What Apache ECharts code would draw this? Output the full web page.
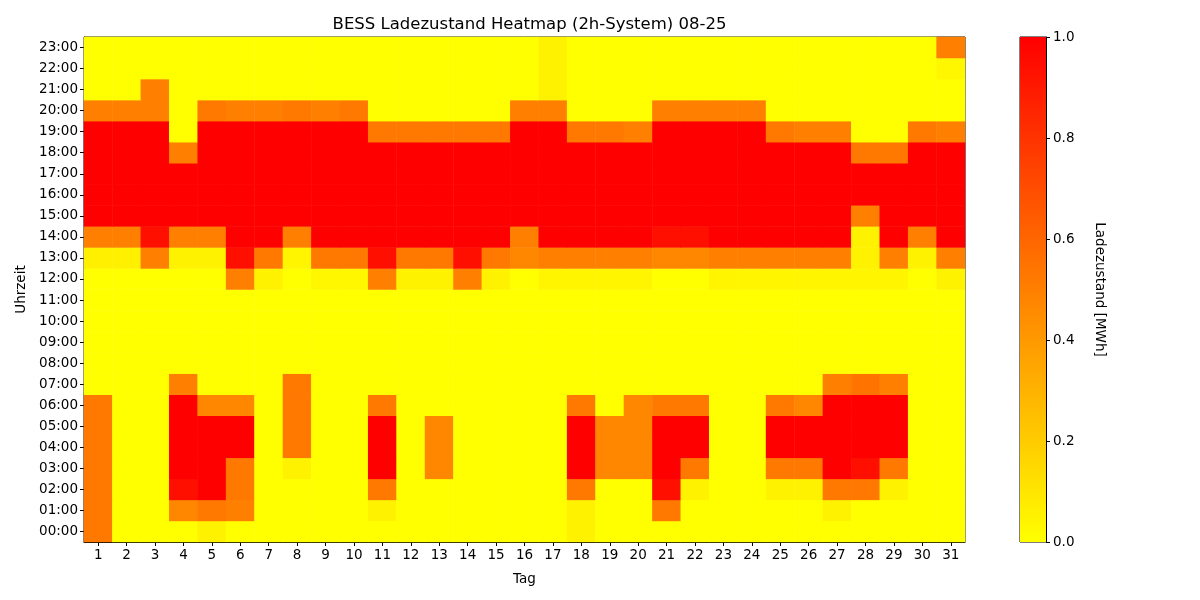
<!DOCTYPE html>
<html>
<head>
<meta charset="utf-8">
<script src="https://cdn.jsdelivr.net/npm/echarts@6/dist/echarts.min.js"></script>
<style>
  html, body { margin: 0; padding: 0; background: #fff; }
  #chart { width: 1200px; height: 600px; }
</style>
</head>
<body>
<div id="chart"></div>
<script>
// Tage und Stunden
var days = [];
for (var d = 1; d <= 31; d++) days.push(String(d));
var hours = [];
for (var h = 0; h < 24; h++) hours.push((h < 10 ? '0' : '') + h + ':00');

// Ladezustand [MWh], eine Zeile pro Stunde (00:00 ... 23:00), Spalten = Tag 1..31
var soc = [
  /*00*/ [0.53,0,0,0,0.05,0,0,0,0,0,0,0,0,0,0,0,0,0.05,0,0,0,0,0,0,0,0,0,0,0,0,0],
  /*01*/ [0.53,0,0,0.47,0.53,0.5,0,0,0,0,0.05,0,0,0,0,0,0,0.05,0,0,0.53,0,0,0,0,0,0.05,0,0,0,0],
  /*02*/ [0.53,0,0,0.94,1,0.53,0,0,0,0,0.53,0,0,0,0,0,0,0.53,0,0,0.94,0.05,0,0,0.05,0.05,0.53,0.53,0.05,0,0],
  /*03*/ [0.53,0,0,1,1,0.53,0,0.05,0,0,1,0,0.47,0,0,0,0,1,0.47,0.47,1,0.53,0,0,0.53,0.53,1,0.94,0.53,0,0],
  /*04*/ [0.53,0,0,1,1,1,0,0.53,0,0,1,0,0.47,0,0,0,0,1,0.47,0.47,1,1,0,0,1,1,1,1,1,0,0],
  /*05*/ [0.53,0,0,1,1,1,0,0.53,0,0,1,0,0.47,0,0,0,0,1,0.47,0.47,1,1,0,0,1,1,1,1,1,0,0],
  /*06*/ [0.53,0,0,1,0.47,0.47,0,0.53,0,0,0.53,0,0,0,0,0,0,0.53,0,0.47,0.53,0.53,0,0,0.53,0.47,1,1,1,0,0],
  /*07*/ [0,0,0,0.5,0,0,0,0.53,0,0,0,0,0,0,0,0,0,0,0,0,0,0,0,0,0,0,0.5,0.55,0.5,0,0],
  /*08*/ [0,0,0,0,0,0,0,0,0,0,0,0,0,0,0,0,0,0,0,0,0,0,0,0,0,0,0,0,0,0,0],
  /*09*/ [0,0,0,0,0,0,0,0,0,0,0,0,0,0,0,0,0,0,0,0,0,0,0,0,0,0,0,0,0,0,0],
  /*10*/ [0,0,0,0,0,0,0,0,0,0,0,0,0,0,0,0,0,0,0,0,0,0,0,0,0,0,0,0,0,0,0],
  /*11*/ [0,0,0,0,0,0,0,0,0,0,0,0,0,0,0,0,0,0,0,0,0,0,0,0,0,0,0,0,0,0,0],
  /*12*/ [0,0,0,0,0,0.5,0.05,0,0.03,0.03,0.5,0.05,0.05,0.5,0.05,0,0.04,0.04,0.04,0.04,0,0,0.04,0.04,0.04,0.04,0.04,0.04,0.04,0,0.05],
  /*13*/ [0.06,0.06,0.5,0.05,0.05,0.94,0.53,0.04,0.53,0.53,0.94,0.53,0.53,0.94,0.53,0.47,0.5,0.5,0.5,0.5,0.47,0.47,0.5,0.5,0.5,0.5,0.5,0.05,0.5,0.05,0.5],
  /*14*/ [0.5,0.5,0.94,0.5,0.5,1,1,0.5,1,1,1,1,1,1,1,0.5,1,1,1,1,0.94,0.94,1,1,1,1,1,0.05,1,0.5,1],
  /*15*/ [1,1,1,1,1,1,1,1,1,1,1,1,1,1,1,1,1,1,1,1,1,1,1,1,1,1,1,0.5,1,1,1],
  /*16*/ [1,1,1,1,1,1,1,1,1,1,1,1,1,1,1,1,1,1,1,1,1,1,1,1,1,1,1,1,1,1,1],
  /*17*/ [1,1,1,1,1,1,1,1,1,1,1,1,1,1,1,1,1,1,1,1,1,1,1,1,1,1,1,1,1,1,1],
  /*18*/ [1,1,1,0.5,1,1,1,1,1,1,1,1,1,1,1,1,1,1,1,1,1,1,1,1,1,1,1,0.53,0.53,1,1],
  /*19*/ [1,1,1,0,1,1,1,1,1,1,0.53,0.53,0.53,0.53,0.53,1,1,0.53,0.53,0.5,1,1,1,1,0.53,0.5,0.5,0,0,0.53,0.5],
  /*20*/ [0.5,0.5,0.5,0,0.53,0.5,0.5,0.53,0.5,0.53,0,0,0,0,0,0.5,0.5,0,0,0,0.5,0.5,0.5,0.5,0,0,0,0,0,0,0],
  /*21*/ [0,0,0.5,0,0,0,0,0,0,0,0,0,0,0,0,0,0.05,0,0,0,0,0,0,0,0,0,0,0,0,0,0],
  /*22*/ [0,0,0,0,0,0,0,0,0,0,0,0,0,0,0,0,0.05,0,0,0,0,0,0,0,0,0,0,0,0,0,0.03],
  /*23*/ [0,0,0,0,0,0,0,0,0,0,0,0,0,0,0,0,0.05,0,0,0,0,0,0,0,0,0,0,0,0,0,0.5]
];

// Farbskala (autumn_r): gelb bei 0, rot bei 1
var cbarMin = 0, cbarMax = 1;

var heatData = [];
for (var hi = 0; hi < soc.length; hi++) {
    for (var di = 0; di < soc[hi].length; di++) {
        heatData.push([di, hi, soc[hi][di]]);
    }
}

var font = 'DejaVu Sans';
var chart = echarts.init(document.getElementById('chart'), null, {renderer: 'canvas'});

var option = {
    animation: false,
    backgroundColor: '#fff',
    textStyle: {fontFamily: font},
    title: {
        text: 'BESS Ladezustand Heatmap (2h-System) 08-25',
        left: 524.5,
        top: 11,
        textAlign: 'center',
        textStyle: {fontFamily: font, fontSize: 16.5, fontWeight: 'normal', color: '#000'}
    },
    grid: [
        {left: 84, top: 37, width: 881, height: 505, show: true, borderColor: '#000', borderWidth: 1, backgroundColor: 'transparent'},
        {left: 1020, top: 37, width: 26, height: 505, show: true, borderColor: '#000', borderWidth: 1, backgroundColor: 'transparent'}
    ],
    xAxis: [
        {
            type: 'category', gridIndex: 0, data: days,
            name: 'Tag', nameLocation: 'middle', nameGap: 30,
            nameTextStyle: {fontFamily: font, fontSize: 13.5, color: '#000'},
            axisLine: {show: true, lineStyle: {color: '#000', width: 1}},
            axisTick: {show: true, alignWithLabel: true, length: 4, lineStyle: {color: '#000'}},
            axisLabel: {fontFamily: font, fontSize: 13.5, color: '#000', margin: 6, interval: 0},
            splitLine: {show: false}
        },
        {
            type: 'category', gridIndex: 1, data: ['cbar'],
            show: false
        }
    ],
    yAxis: [
        {
            type: 'category', gridIndex: 0, data: hours,
            name: 'Uhrzeit', nameLocation: 'middle', nameGap: 55,
            nameTextStyle: {fontFamily: font, fontSize: 13.5, color: '#000'},
            axisLine: {show: true, lineStyle: {color: '#000', width: 1}},
            axisTick: {show: true, alignWithLabel: true, length: 4, lineStyle: {color: '#000'}},
            axisLabel: {fontFamily: font, fontSize: 13.5, color: '#000', margin: 6, interval: 0},
            splitLine: {show: false}
        },
        {
            type: 'value', gridIndex: 1, position: 'right',
            min: cbarMin, max: cbarMax, interval: 0.2,
            name: 'Ladezustand [MWh]', nameLocation: 'middle', nameGap: 46, nameRotate: -90,
            nameTextStyle: {fontFamily: font, fontSize: 13.5, color: '#000'},
            axisLine: {show: true, lineStyle: {color: '#000', width: 1}},
            axisTick: {show: true, length: 4, lineStyle: {color: '#000'}},
            axisLabel: {
                fontFamily: font, fontSize: 13.5, color: '#000', margin: 7,
                formatter: function (v) { return v.toFixed(1); }
            },
            splitLine: {show: false}
        }
    ],
    visualMap: {
        show: false,
        type: 'continuous',
        seriesIndex: 0,
        min: cbarMin, max: cbarMax,
        inRange: {color: ['#ffff00', '#ff0000']}
    },
    series: [
        {
            type: 'heatmap',
            xAxisIndex: 0, yAxisIndex: 0,
            data: heatData,
            itemStyle: {borderWidth: 0},
            emphasis: {disabled: true}
        },
        {
            type: 'bar',
            xAxisIndex: 1, yAxisIndex: 1,
            data: [cbarMax],
            barWidth: '100%',
            silent: true,
            itemStyle: {
                color: new echarts.graphic.LinearGradient(0, 0, 0, 1, [
                    {offset: 0, color: '#ff0000'},
                    {offset: 1, color: '#ffff00'}
                ])
            }
        }
    ]
};

chart.setOption(option);
</script>
</body>
</html>
